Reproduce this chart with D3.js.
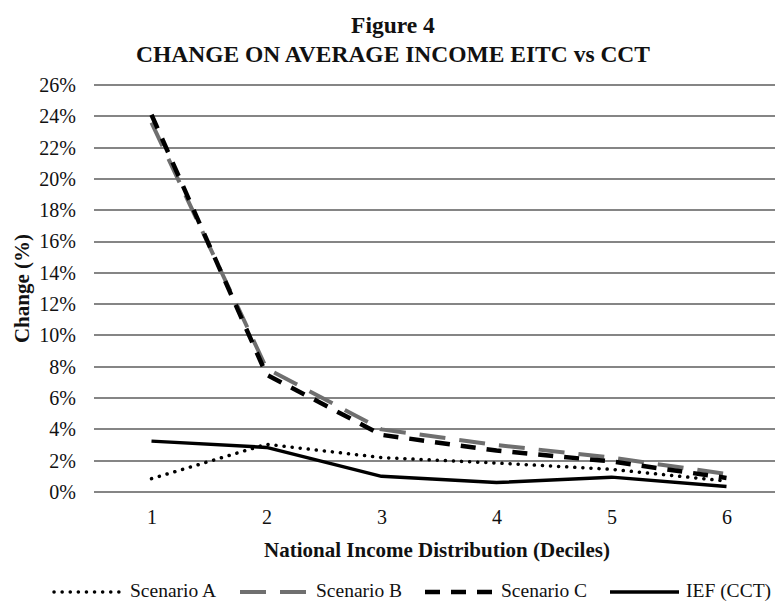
<!DOCTYPE html>
<html>
  <head>
    <meta charset="utf-8">
    <title>Figure 4</title>
    <script src="https://cdn.jsdelivr.net/npm/d3@7"></script>
    <style>
      body { margin: 0; background: #fff; }
      text { font-family: 'Liberation Serif', 'Times New Roman', serif; fill: #111; }
      .title { font-size: 23.5px; font-weight: bold; text-anchor: middle; }
      .axis text { font-size: 20px; }
      .axis path, .axis line { stroke: none; }
      .grid line { stroke: #858585; stroke-width: 2; shape-rendering: crispEdges; }
      .label { font-size: 21px; font-weight: bold; text-anchor: middle; }
      .legend text { font-size: 19.5px; }
      .series { fill: none; }
    </style>
  </head>
  <body>
    <script>

      var width = 775;
      var height = 602;
      var margin = { left: 94, top: 85, right: 0, bottom: 110 };
      var plotWidth = 690;   // plot runs past the right edge of the picture

      // data
      var deciles = ["1", "2", "3", "4", "5", "6"];
      var scenarioA = [0.85, 3.05, 2.2, 1.85, 1.45, 0.7];
      var scenarioB = [23.6, 7.9, 4.0, 3.0, 2.2, 1.15];
      var scenarioC = [24.1, 7.5, 3.65, 2.65, 1.95, 0.9];
      var ief = [3.25, 2.85, 1.0, 0.6, 0.95, 0.35];
      var yTicks = [0, 2, 4, 6, 8, 10, 12, 14, 16, 18, 20, 22, 24, 26];

      var series = [
        { name: "Scenario A", values: scenarioA, color: "#000", width: 3.5, dash: "0.1 8", cap: "round" },
        { name: "Scenario B", values: scenarioB, color: "#6f6f6f", width: 4, dash: "26 14", cap: "butt" },
        { name: "Scenario C", values: scenarioC, color: "#000", width: 4.5, dash: "15 11", cap: "butt" },
        { name: "IEF (CCT)", values: ief, color: "#000", width: 3.5, dash: null, cap: "butt" }
      ];

      var innerHeight = height - margin.top - margin.bottom;

      var svg = d3.select("body").append("svg")
        .attr("width", width)
        .attr("height", height)
        .style("display", "block");

      svg.append("text").attr("class", "title")
        .attr("x", 393).attr("y", 33)
        .text("Figure 4");
      svg.append("text").attr("class", "title")
        .attr("x", 393).attr("y", 62)
        .text("CHANGE ON AVERAGE INCOME EITC vs CCT");

      var g = svg.append("g")
        .attr("transform", "translate(" + margin.left + "," + margin.top + ")");

      var xScale = d3.scalePoint()
        .domain(deciles)
        .range([0, plotWidth])
        .padding(0.5);
      var yScale = d3.scaleLinear()
        .domain([0, 26])
        .range([innerHeight, 0]);

      g.append("g").attr("class", "grid")
        .selectAll("line").data(yTicks).enter().append("line")
        .attr("x1", 0).attr("x2", width - margin.left)
        .attr("y1", function(d) { return Math.round(yScale(d)); })
        .attr("y2", function(d) { return Math.round(yScale(d)); });

      var yAxis = d3.axisLeft(yScale)
        .tickValues(yTicks)
        .tickSize(0)
        .tickPadding(18)
        .tickFormat(function(d) { return d + "%"; });
      g.append("g").attr("class", "y axis").call(yAxis);

      var xAxis = d3.axisBottom(xScale).tickSize(0).tickPadding(18);
      g.append("g").attr("class", "x axis")
        .attr("transform", "translate(0," + innerHeight + ")")
        .call(xAxis);

      var line = d3.line()
        .x(function(d, i) { return xScale(deciles[i]); })
        .y(function(d) { return yScale(d); });

      g.selectAll(".series").data(series).enter().append("path")
        .attr("class", "series")
        .attr("d", function(d) { return line(d.values); })
        .attr("stroke", function(d) { return d.color; })
        .attr("stroke-width", function(d) { return d.width; })
        .attr("stroke-dasharray", function(d) { return d.dash; })
        .attr("stroke-linecap", function(d) { return d.cap; })
        .attr("stroke-linejoin", "round");

      svg.append("text").attr("class", "label")
        .attr("transform", "translate(29," + (margin.top + innerHeight / 2) + ") rotate(-90)")
        .text("Change (%)");
      svg.append("text").attr("class", "label")
        .attr("x", 437).attr("y", 557)
        .text("National Income Distribution (Deciles)");

      var legendX = [54, 240, 425, 610];
      var legend = svg.append("g").attr("class", "legend")
        .selectAll("g").data(series).enter().append("g")
        .attr("transform", function(d, i) { return "translate(" + legendX[i] + ",592)"; });
      legend.append("line")
        .attr("x1", 0).attr("x2", 69)
        .attr("stroke", function(d) { return d.color; })
        .attr("stroke-width", function(d) { return d.width; })
        .attr("stroke-dasharray", function(d) { return d.dash; })
        .attr("stroke-linecap", function(d) { return d.cap; });
      legend.append("text")
        .attr("x", 76).attr("y", 5)
        .text(function(d) { return d.name; });

    </script>
  </body>
</html>
